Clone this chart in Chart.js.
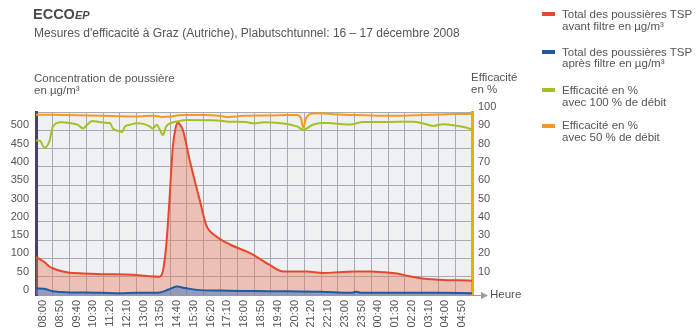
<!DOCTYPE html>
<html lang="fr">
<head>
<meta charset="utf-8">
<title>ECCO EP – Graz</title>
<script src="https://cdn.jsdelivr.net/npm/chart.js@4.4.1/dist/chart.umd.min.js"></script>
<style>
  html, body { margin: 0; padding: 0; background: #fff; }
  body { font-family: "Liberation Sans", Arial, sans-serif; color: #555; }
  #wrap { position: relative; width: 700px; height: 334px; overflow: hidden; }
  #wrap canvas { position: absolute; left: 0; top: 0; }
  .txt { position: absolute; white-space: nowrap; font-size: 11.5px; line-height: 11.7px; }
  .title { position: absolute; left: 33px; top: 6px; font-weight: bold; font-size: 14.5px; color: #4a4a4a; }
  .title i { font-size: 11px; }
  .sub { position: absolute; left: 34px; top: 26px; font-size: 12px; line-height: 14px; color: #555; white-space: nowrap; }
  .mark { position: absolute; left: 542px; width: 13px; height: 4px; }
</style>
</head>
<body>
<div id="wrap">
  <canvas id="chart" width="700" height="334"></canvas>

  <div class="title">ECCO<i>EP</i></div>
  <div class="sub">Mesures d'efficacité à Graz (Autriche), Plabutschtunnel: 16 – 17 décembre 2008</div>

  <div class="txt" style="left:34px; top:72.8px">Concentration de poussière<br>en µg/m³</div>
  <div class="txt" style="left:471px; top:71.8px">Efficacité<br>en %</div>
  <div class="txt" style="left:490px; top:289px">Heure</div>

  <!-- legend -->
  <div class="mark" style="top:12px; background:#e5482d"></div>
  <div class="txt" style="left:562px; top:9.2px">Total des poussières TSP<br>avant filtre en µg/m³</div>
  <div class="mark" style="top:49.5px; background:#1e5aa0"></div>
  <div class="txt" style="left:562px; top:46.5px">Total des poussières TSP<br>après filtre en µg/m³</div>
  <div class="mark" style="top:88px; background:#a3c21f"></div>
  <div class="txt" style="left:562px; top:84.9px">Efficacité en %<br>avec 100 % de débit</div>
  <div class="mark" style="top:123.5px; background:#f29a24"></div>
  <div class="txt" style="left:562px; top:120.2px">Efficacité en %<br>avec 50 % de débit</div>
</div>

<script>
/* ── data (x = minutes after 08:00 on 16 Dec) ───────────────── */

const tickLabels = ["08:00", "08:50", "09:40", "10:30", "11:20", "12:10", "13:00", "13:50",
  "14:40", "15:30", "16:20", "17:10", "18:00", "18:50", "19:40", "20:30", "21:20", "22:10",
  "23:00", "23:50", "00:40", "01:30", "02:20", "03:10", "04:00", "04:50"];

// left axis labels – the original skips 250
const leftTicks  = [0, 50, 100, 150, 200, 300, 350, 400, 450, 500];
const rightTicks = [10, 20, 30, 40, 50, 60, 70, 80, 90, 100];

// TSP before filter (µg/m³)
const redT = [0, 25, 40, 50, 80, 100, 140, 200, 290, 330, 368, 378, 388, 398, 408, 416, 423, 430, 438,
  458, 488, 508, 538, 578, 637, 697, 737, 807, 856, 900, 956, 996, 1040, 1076, 1110, 1146, 1180, 1215, 1260, 1300];
const redV = [104, 90, 78, 73, 64, 61, 59, 57, 55, 52, 50, 64, 132, 310, 455, 505, 521, 515, 501,
  419, 310, 190, 160, 138, 115, 82, 64, 64, 60, 62, 64, 64, 62, 59, 52, 46, 43, 41, 40, 39];

// TSP after filter (µg/m³)
const blueT = [0, 25, 50, 75, 100, 150, 200, 250, 300, 350, 370, 395, 420, 445, 480, 550, 650, 750,
  850, 940, 955, 970, 1000, 1100, 1200, 1300];
const blueV = [18, 17, 10, 8, 7, 7, 6, 5, 6, 6, 7, 15, 23, 19, 14, 12, 11, 10,
  9, 6, 9, 6, 6, 6, 6, 5];

// efficiency at 100 % flow (%)
const greenT = [0, 12, 25, 40, 50, 75, 100, 125, 140, 150, 168, 200, 220, 230, 250, 256, 265, 280, 300,
  320, 340, 348, 360, 370, 378, 388, 400, 420, 450, 540, 575, 625, 650, 680, 725, 760, 780, 797,
  825, 850, 875, 900, 940, 975, 1050, 1125, 1150, 1185, 1215, 1250, 1275, 1300];
const greenV = [84.5, 84.3, 80.5, 84, 92, 94.4, 94, 93, 91, 92.6, 95.1, 94.2, 94, 90.8, 89.5, 88.9, 92, 93, 93.8,
  93.5, 92, 91, 93, 90, 87.4, 92, 93.8, 94.8, 95.6, 95.4, 94.7, 94.5, 93.8, 94.4, 94, 93, 92, 90.3,
  93, 94, 94, 93.6, 93.2, 94.6, 94.6, 94.7, 94, 92.4, 93.3, 92.6, 91.8, 90.5];

// efficiency at 50 % flow (%)
const orangeT = [0, 50, 100, 150, 200, 250, 300, 325, 350, 375, 400, 425, 450, 500, 525, 550, 575, 600, 625,
  700, 750, 780, 790, 797, 805, 825, 850, 875, 900, 950, 1000, 1050, 1100, 1150, 1200, 1250, 1300];
const orangeV = [98.5, 98.5, 98.3, 98.1, 97.9, 97.7, 97.6, 97.8, 98, 97.3, 97.5, 98.2, 98.4, 98.4, 98.2, 97.8, 97.3, 97.6, 98,
  98.1, 98.3, 98.3, 96.5, 91.5, 96.5, 99.2, 99.3, 99, 98.6, 98.3, 98.1, 97.9, 98, 98.4, 98.7, 98.9, 99];

/* ── broken left axis: 0–200 and 300–500 linear, 200→300 squeezed in one step ── */

function toStep(v) {
  if (v <= 200) return v / 5;
  if (v < 300) return 40 + (v - 200) / 10;
  return 50 + (v - 300) / 5;
}
function fromStep(u) {
  if (u <= 40) return u * 5;
  if (u < 50) return 200 + (u - 40) * 10;
  return 300 + (u - 50) * 5;
}

class BrokenScale extends Chart.LinearScale {
  determineDataLimits() {
    this.min = 0;     // step units, shared with the % axis
    this.max = 100;
  }
  buildTicks() {
    this.start = this.min;
    this.end = this.max;
    return leftTicks.map((v) => ({ value: v }));
  }
  getPixelForValue(v) { return super.getPixelForValue(toStep(v)); }
  getValueForPixel(p) { return fromStep(super.getValueForPixel(p)); }
}
BrokenScale.id = "broken";
BrokenScale.defaults = {};
Chart.register(BrokenScale);

const pts = (t, v) => t.map((x, i) => ({ x, y: v[i] }));

/* ── plugins: plot background + axis arrow ─────────────────── */

const plotBg = {
  id: "plotBg",
  beforeDraw(chart) {
    const { ctx, chartArea: a } = chart;
    ctx.save();
    ctx.fillStyle = "#eef0f4";
    ctx.fillRect(a.left, a.top, a.right - a.left, a.bottom - a.top);
    ctx.restore();
  },
};

const axisArrow = {
  id: "axisArrow",
  afterDraw(chart) {
    const { ctx, chartArea: a } = chart;
    ctx.save();
    ctx.strokeStyle = "#9a9a9a";
    ctx.fillStyle = "#9a9a9a";
    ctx.lineWidth = 1;
    ctx.beginPath();
    ctx.moveTo(a.right, a.bottom + 0.5);
    ctx.lineTo(a.right + 12, a.bottom + 0.5);
    ctx.stroke();
    ctx.beginPath();
    ctx.moveTo(a.right + 16, a.bottom + 0.5);
    ctx.lineTo(a.right + 9, a.bottom - 3);
    ctx.lineTo(a.right + 9, a.bottom + 4);
    ctx.closePath();
    ctx.fill();
    ctx.restore();
  },
};

/* ── chart ─────────────────────────────────────────────────── */

const tickFont = { family: "'Liberation Sans', Arial, sans-serif", size: 11 };
const gridColor = "#a9a9b0";

new Chart(document.getElementById("chart"), {
  type: "line",
  data: {
    datasets: [
      {
        label: "Total des poussières TSP avant filtre en µg/m³",
        data: pts(redT, redV),
        yAxisID: "y",
        borderColor: "#e5482d",
        backgroundColor: "rgba(234,120,88,0.40)",
        fill: "origin",
        order: 4,
      },
      {
        label: "Total des poussières TSP après filtre en µg/m³",
        data: pts(blueT, blueV),
        yAxisID: "y",
        borderColor: "#1e5aa0",
        backgroundColor: "rgba(60,115,195,0.5)",
        fill: "origin",
        order: 3,
      },
      {
        label: "Efficacité en % avec 100 % de débit",
        data: pts(greenT, greenV),
        yAxisID: "y1",
        borderColor: "#a3c21f",
        fill: false,
        order: 2,
      },
      {
        label: "Efficacité en % avec 50 % de débit",
        data: pts(orangeT, orangeV),
        yAxisID: "y1",
        borderColor: "#f29a24",
        fill: false,
        order: 1,
      },
    ],
  },
  options: {
    responsive: false,
    animation: false,
    layout: { padding: { top: 112, left: 0, right: 0, bottom: 0 } },
    elements: {
      line: { borderWidth: 2, cubicInterpolationMode: "monotone" },
      point: { radius: 0 },
    },
    plugins: { legend: { display: false }, tooltip: { enabled: false } },
    scales: {
      x: {
        type: "linear",
        min: 0,
        max: 1300,
        afterBuildTicks: (s) => {
          s.ticks = tickLabels.concat([""]).map((_, i) => ({ value: i * 50 }));
        },
        afterFit: (s) => { s.height = 39; },
        grid: { color: gridColor, drawTicks: false },
        border: { color: "#9a9a9a", width: 1 },
        ticks: {
          autoSkip: false,
          maxRotation: 90,
          minRotation: 90,
          padding: 5,
          labelOffset: 7,
          color: "#555",
          font: tickFont,
          callback: (v) => tickLabels[Math.round(v / 50)] || "",
        },
      },
      y: {
        type: "broken",
        position: "left",
        z: 1,
        afterFit: (s) => { s.width = 36; },
        grid: { display: false, drawTicks: false },
        border: { color: "#4c3d6e", width: 3 },
        ticks: {
          padding: 7,
          labelOffset: -5,
          color: "#555",
          font: tickFont,
          callback: (v) => String(v),
        },
      },
      y1: {
        type: "linear",
        position: "right",
        min: 0,
        max: 100,
        afterBuildTicks: (s) => { s.ticks = rightTicks.map((v) => ({ value: v })); },
        afterFit: (s) => { s.width = 228; },
        grid: { color: gridColor, drawTicks: false },
        border: { color: "#e6b100", width: 3 },
        ticks: {
          padding: 6,
          labelOffset: -5,
          color: "#555",
          font: tickFont,
          callback: (v) => String(v),
        },
      },
    },
  },
  plugins: [plotBg, axisArrow],
});
</script>
</body>
</html>
